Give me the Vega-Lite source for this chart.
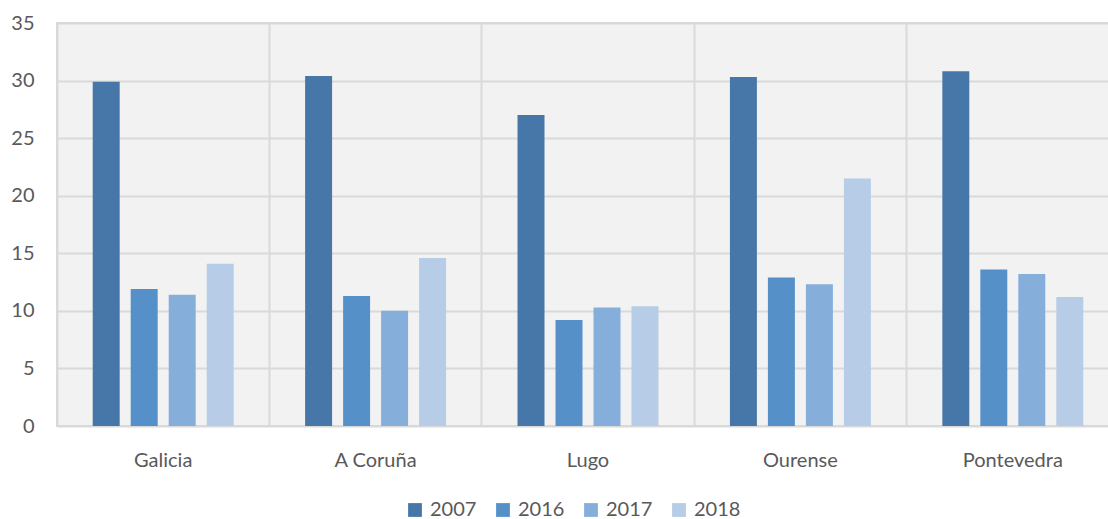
{
  "$schema": "https://vega.github.io/schema/vega-lite/v6.json",
  "width": 1062,
  "height": 403,
  "autosize": {"type": "none"},
  "padding": {"left": 57, "top": 23, "right": 0, "bottom": 93},
  "background": "white",
  "config": {
    "view": {"fill": "#f2f2f2", "stroke": "#d9d9d9", "strokeWidth": 2},
    "font": "Lato"
  },
  "data": {
    "values": [
      {"region": "Galicia", "year": "2007", "value": 29.9},
      {"region": "Galicia", "year": "2016", "value": 11.9},
      {"region": "Galicia", "year": "2017", "value": 11.4},
      {"region": "Galicia", "year": "2018", "value": 14.1},
      {"region": "A Coruña", "year": "2007", "value": 30.4},
      {"region": "A Coruña", "year": "2016", "value": 11.3},
      {"region": "A Coruña", "year": "2017", "value": 10.0},
      {"region": "A Coruña", "year": "2018", "value": 14.6},
      {"region": "Lugo", "year": "2007", "value": 27.0},
      {"region": "Lugo", "year": "2016", "value": 9.2},
      {"region": "Lugo", "year": "2017", "value": 10.3},
      {"region": "Lugo", "year": "2018", "value": 10.4},
      {"region": "Ourense", "year": "2007", "value": 30.3},
      {"region": "Ourense", "year": "2016", "value": 12.9},
      {"region": "Ourense", "year": "2017", "value": 12.3},
      {"region": "Ourense", "year": "2018", "value": 21.5},
      {"region": "Pontevedra", "year": "2007", "value": 30.8},
      {"region": "Pontevedra", "year": "2016", "value": 13.6},
      {"region": "Pontevedra", "year": "2017", "value": 13.2},
      {"region": "Pontevedra", "year": "2018", "value": 11.2}
    ]
  },
  "mark": {"type": "bar"},
  "encoding": {
    "x": {
      "field": "region",
      "type": "nominal",
      "sort": ["Galicia", "A Coruña", "Lugo", "Ourense", "Pontevedra"],
      "scale": {"paddingInner": 0, "paddingOuter": 0},
      "axis": {
        "title": null,
        "labelAngle": 0,
        "labelFontSize": 20,
        "labelColor": "#595959",
        "labelPadding": 24,
        "ticks": false,
        "domain": false,
        "grid": true,
        "bandPosition": 0,
        "gridColor": "#d9d9d9",
        "gridWidth": 2
      }
    },
    "xOffset": {
      "field": "year",
      "type": "nominal",
      "scale": {"paddingInner": 0.29, "paddingOuter": 0.94}
    },
    "y": {
      "field": "value",
      "type": "quantitative",
      "scale": {"domain": [0, 35], "nice": false},
      "axis": {
        "title": null,
        "values": [0, 5, 10, 15, 20, 25, 30, 35],
        "labelFontSize": 20,
        "labelColor": "#595959",
        "labelPadding": 23,
        "ticks": false,
        "domain": false,
        "gridColor": "#d9d9d9",
        "gridWidth": 2
      }
    },
    "color": {
      "field": "year",
      "type": "nominal",
      "scale": {
        "domain": ["2007", "2016", "2017", "2018"],
        "range": ["#4677a8", "#5590c8", "#85aedb", "#b7cce6"]
      },
      "legend": {
        "title": null,
        "orient": "none",
        "direction": "horizontal",
        "legendX": 348,
        "legendY": 477,
        "symbolType": "square",
        "symbolSize": 190,
        "symbolStrokeWidth": 0,
        "labelFontSize": 20,
        "labelColor": "#595959",
        "columnPadding": 16,
        "labelOffset": 5
      }
    }
  }
}
